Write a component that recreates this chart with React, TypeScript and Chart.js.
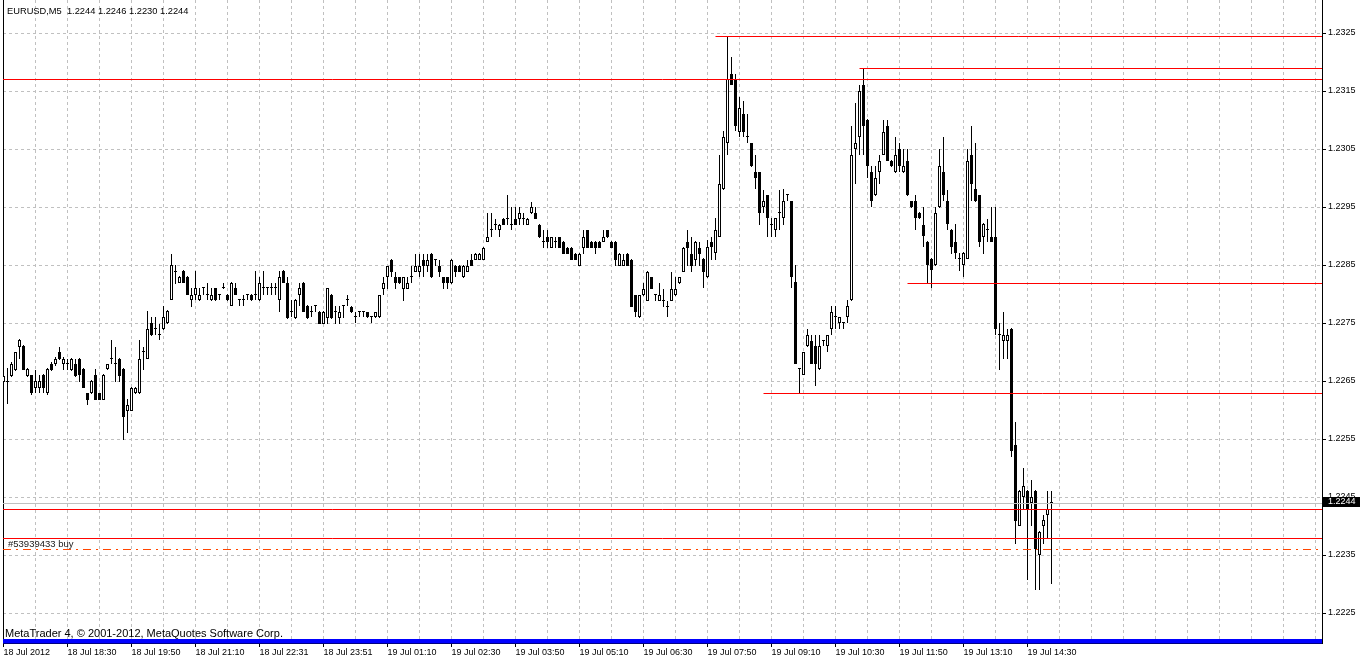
import React, { useEffect, useRef } from 'react';
import { Chart, registerables } from 'chart.js';

Chart.register(...registerables);

// ---- OHLC data (EURUSD M5), one entry per bar ----
const opens = [
  1.22649, 1.22649, 1.22659, 1.22669, 1.22709, 1.22710, 1.22659, 1.22660, 1.22639, 1.22639,
  1.22660, 1.22629, 1.22679, 1.22679, 1.22700, 1.22679, 1.22679, 1.22669, 1.22679, 1.22689,
  1.22671, 1.22629, 1.22629, 1.22660, 1.22629, 1.22618, 1.22671, 1.22689, 1.22679, 1.22689,
  1.22671, 1.22599, 1.22599, 1.22629, 1.22629, 1.22700, 1.22689, 1.22750, 1.22740, 1.22729,
  1.22740, 1.22750, 1.22790, 1.22839, 1.22820, 1.22840, 1.22830, 1.22790, 1.22799, 1.22790,
  1.22810, 1.22799, 1.22790, 1.22810, 1.22799, 1.22810, 1.22799, 1.22780, 1.22810, 1.22790,
  1.22790, 1.22799, 1.22799, 1.22799, 1.22790, 1.22810, 1.22810, 1.22810, 1.22810, 1.22790,
  1.22840, 1.22820, 1.22770, 1.22759, 1.22799, 1.22820, 1.22780, 1.22770, 1.22779, 1.22770,
  1.22749, 1.22759, 1.22799, 1.22770, 1.22759, 1.22779, 1.22790, 1.22778, 1.22760, 1.22769,
  1.22769, 1.22769, 1.22760, 1.22760, 1.22760, 1.22809, 1.22829, 1.22859, 1.22829, 1.22829,
  1.22809, 1.22809, 1.22829, 1.22839, 1.22839, 1.22859, 1.22849, 1.22870, 1.22859, 1.22849,
  1.22829, 1.22829, 1.22819, 1.22849, 1.22849, 1.22829, 1.22839, 1.22859, 1.22859, 1.22859,
  1.22859, 1.22890, 1.22910, 1.22920, 1.22910, 1.22930, 1.22930, 1.22920, 1.22930, 1.22930,
  1.22930, 1.22920, 1.22939, 1.22939, 1.22920, 1.22890, 1.22898, 1.22880, 1.22890, 1.22898,
  1.22890, 1.22880, 1.22880, 1.22870, 1.22849, 1.22880, 1.22910, 1.22890, 1.22890, 1.22890,
  1.22890, 1.22910, 1.22890, 1.22890, 1.22849, 1.22849, 1.22870, 1.22859, 1.22798, 1.22760,
  1.22798, 1.22789, 1.22829, 1.22798, 1.22789, 1.22789, 1.22778, 1.22789, 1.22798, 1.22819,
  1.22839, 1.22890, 1.22870, 1.22859, 1.22880, 1.22861, 1.22829, 1.22890, 1.22871, 1.22899,
  1.22981, 1.23060, 1.23180, 1.23170, 1.23080, 1.23110, 1.23070, 1.23060, 1.23010, 1.23010,
  1.22950, 1.22970, 1.22920, 1.22911, 1.22940, 1.22931, 1.22970, 1.22960, 1.22821, 1.22671,
  1.22661, 1.22710, 1.22720, 1.22710, 1.22671, 1.22720, 1.22710, 1.22740, 1.22760, 1.22750,
  1.22750, 1.22760, 1.22790, 1.23050, 1.23070, 1.23160, 1.23100, 1.23010, 1.22970, 1.23010,
  1.23040, 1.23090, 1.23030, 1.23010, 1.23050, 1.23010, 1.23030, 1.22960, 1.22960, 1.22940,
  1.22920, 1.22890, 1.22861, 1.22850, 1.22950, 1.23010, 1.22960, 1.22911, 1.22890, 1.22861,
  1.22851, 1.22861, 1.23040, 1.22981, 1.22970, 1.22899, 1.22911, 1.22899, 1.22899, 1.22730,
  1.22720, 1.22720, 1.22740, 1.22540, 1.22400, 1.22451, 1.22461, 1.22440, 1.22461, 1.22350,
  1.22400, 1.22420, 1.22440,
];

const highs = [
  1.22672, 1.22672, 1.22683, 1.22701, 1.22722, 1.22712, 1.22673, 1.22661, 1.22669, 1.22660,
  1.22663, 1.22673, 1.22683, 1.22692, 1.22709, 1.22691, 1.22689, 1.22690, 1.22689, 1.22690,
  1.22672, 1.22630, 1.22652, 1.22671, 1.22630, 1.22662, 1.22680, 1.22721, 1.22709, 1.22690,
  1.22672, 1.22619, 1.22640, 1.22640, 1.22721, 1.22709, 1.22771, 1.22760, 1.22761, 1.22749,
  1.22779, 1.22772, 1.22870, 1.22850, 1.22831, 1.22841, 1.22831, 1.22810, 1.22840, 1.22810,
  1.22811, 1.22820, 1.22810, 1.22811, 1.22800, 1.22820, 1.22800, 1.22821, 1.22820, 1.22791,
  1.22799, 1.22800, 1.22800, 1.22840, 1.22830, 1.22840, 1.22811, 1.22820, 1.22820, 1.22840,
  1.22841, 1.22830, 1.22790, 1.22791, 1.22820, 1.22821, 1.22781, 1.22779, 1.22780, 1.22771,
  1.22771, 1.22810, 1.22800, 1.22779, 1.22779, 1.22780, 1.22799, 1.22780, 1.22769, 1.22770,
  1.22770, 1.22770, 1.22761, 1.22770, 1.22799, 1.22829, 1.22849, 1.22860, 1.22839, 1.22830,
  1.22830, 1.22829, 1.22849, 1.22870, 1.22870, 1.22870, 1.22870, 1.22871, 1.22860, 1.22859,
  1.22830, 1.22830, 1.22860, 1.22850, 1.22850, 1.22850, 1.22859, 1.22870, 1.22871, 1.22871,
  1.22881, 1.22939, 1.22939, 1.22930, 1.22921, 1.22931, 1.22970, 1.22950, 1.22950, 1.22950,
  1.22939, 1.22931, 1.22959, 1.22950, 1.22921, 1.22910, 1.22910, 1.22899, 1.22898, 1.22899,
  1.22891, 1.22881, 1.22881, 1.22871, 1.22871, 1.22910, 1.22911, 1.22891, 1.22891, 1.22891,
  1.22910, 1.22911, 1.22891, 1.22891, 1.22871, 1.22870, 1.22871, 1.22860, 1.22799, 1.22799,
  1.22819, 1.22840, 1.22830, 1.22799, 1.22819, 1.22809, 1.22789, 1.22839, 1.22829, 1.22830,
  1.22881, 1.22910, 1.22898, 1.22891, 1.22890, 1.22862, 1.22894, 1.22899, 1.22931, 1.23040,
  1.23081, 1.23245, 1.23209, 1.23180, 1.23140, 1.23132, 1.23110, 1.23061, 1.23040, 1.23011,
  1.22980, 1.22971, 1.22931, 1.22932, 1.22980, 1.22981, 1.22971, 1.22961, 1.22850, 1.22672,
  1.22701, 1.22740, 1.22730, 1.22730, 1.22730, 1.22721, 1.22730, 1.22780, 1.22780, 1.22761,
  1.22751, 1.22790, 1.23090, 1.23130, 1.23160, 1.23190, 1.23101, 1.23020, 1.23020, 1.23040,
  1.23100, 1.23100, 1.23031, 1.23070, 1.23060, 1.23050, 1.23050, 1.22961, 1.22970, 1.22941,
  1.22950, 1.22891, 1.22862, 1.22950, 1.23050, 1.23070, 1.22980, 1.22912, 1.22921, 1.22871,
  1.22872, 1.23050, 1.23090, 1.23060, 1.22971, 1.22922, 1.22930, 1.22950, 1.22950, 1.22750,
  1.22770, 1.22740, 1.22741, 1.22580, 1.22462, 1.22500, 1.22462, 1.22480, 1.22462, 1.22391,
  1.22420, 1.22461, 1.22460,
];

const lows = [
  1.22623, 1.22610, 1.22657, 1.22667, 1.22689, 1.22669, 1.22657, 1.22627, 1.22629, 1.22629,
  1.22629, 1.22627, 1.22667, 1.22677, 1.22687, 1.22670, 1.22669, 1.22668, 1.22658, 1.22649,
  1.22638, 1.22609, 1.22628, 1.22617, 1.22617, 1.22617, 1.22669, 1.22679, 1.22649, 1.22649,
  1.22549, 1.22560, 1.22598, 1.22628, 1.22628, 1.22669, 1.22688, 1.22728, 1.22729, 1.22721,
  1.22739, 1.22749, 1.22790, 1.22818, 1.22819, 1.22819, 1.22798, 1.22778, 1.22790, 1.22789,
  1.22799, 1.22790, 1.22789, 1.22789, 1.22790, 1.22809, 1.22789, 1.22779, 1.22798, 1.22779,
  1.22779, 1.22790, 1.22789, 1.22790, 1.22789, 1.22799, 1.22799, 1.22799, 1.22799, 1.22770,
  1.22819, 1.22758, 1.22761, 1.22758, 1.22779, 1.22769, 1.22758, 1.22761, 1.22770, 1.22748,
  1.22748, 1.22749, 1.22758, 1.22749, 1.22749, 1.22759, 1.22779, 1.22768, 1.22750, 1.22760,
  1.22760, 1.22759, 1.22750, 1.22759, 1.22759, 1.22798, 1.22809, 1.22829, 1.22809, 1.22818,
  1.22789, 1.22808, 1.22819, 1.22838, 1.22829, 1.22829, 1.22839, 1.22828, 1.22849, 1.22829,
  1.22809, 1.22809, 1.22818, 1.22829, 1.22838, 1.22828, 1.22838, 1.22848, 1.22858, 1.22858,
  1.22858, 1.22889, 1.22898, 1.22910, 1.22898, 1.22919, 1.22920, 1.22910, 1.22919, 1.22920,
  1.22920, 1.22919, 1.22938, 1.22929, 1.22897, 1.22880, 1.22880, 1.22879, 1.22880, 1.22879,
  1.22869, 1.22869, 1.22858, 1.22858, 1.22848, 1.22870, 1.22879, 1.22879, 1.22870, 1.22879,
  1.22889, 1.22897, 1.22879, 1.22849, 1.22848, 1.22848, 1.22848, 1.22777, 1.22760, 1.22759,
  1.22797, 1.22788, 1.22808, 1.22789, 1.22788, 1.22778, 1.22760, 1.22788, 1.22797, 1.22818,
  1.22838, 1.22849, 1.22839, 1.22849, 1.22849, 1.22810, 1.22828, 1.22859, 1.22859, 1.22899,
  1.22980, 1.23040, 1.23160, 1.23081, 1.23070, 1.23070, 1.23060, 1.23019, 1.22981, 1.22920,
  1.22939, 1.22899, 1.22899, 1.22899, 1.22911, 1.22920, 1.22960, 1.22810, 1.22680, 1.22630,
  1.22660, 1.22709, 1.22679, 1.22641, 1.22670, 1.22710, 1.22700, 1.22730, 1.22740, 1.22740,
  1.22740, 1.22750, 1.22789, 1.22990, 1.23040, 1.23040, 1.23000, 1.22950, 1.22969, 1.22990,
  1.23039, 1.23029, 1.23019, 1.23009, 1.23010, 1.23009, 1.22969, 1.22949, 1.22910, 1.22930,
  1.22881, 1.22820, 1.22810, 1.22849, 1.22949, 1.22960, 1.22911, 1.22870, 1.22860, 1.22840,
  1.22830, 1.22860, 1.22960, 1.22959, 1.22881, 1.22870, 1.22890, 1.22889, 1.22730, 1.22670,
  1.22688, 1.22688, 1.22519, 1.22369, 1.22400, 1.22430, 1.22308, 1.22400, 1.22290, 1.22290,
  1.22369, 1.22380, 1.22300,
];

const closes = [
  1.22659, 1.22650, 1.22679, 1.22700, 1.22721, 1.22669, 1.22671, 1.22629, 1.22650, 1.22650,
  1.22639, 1.22671, 1.22669, 1.22689, 1.22689, 1.22689, 1.22679, 1.22689, 1.22659, 1.22660,
  1.22639, 1.22618, 1.22650, 1.22618, 1.22618, 1.22660, 1.22679, 1.22689, 1.22679, 1.22659,
  1.22589, 1.22609, 1.22639, 1.22639, 1.22689, 1.22700, 1.22740, 1.22729, 1.22740, 1.22729,
  1.22761, 1.22771, 1.22850, 1.22839, 1.22830, 1.22820, 1.22799, 1.22799, 1.22810, 1.22799,
  1.22810, 1.22799, 1.22799, 1.22790, 1.22799, 1.22810, 1.22790, 1.22820, 1.22799, 1.22790,
  1.22790, 1.22799, 1.22790, 1.22799, 1.22820, 1.22810, 1.22810, 1.22810, 1.22810, 1.22830,
  1.22820, 1.22759, 1.22770, 1.22790, 1.22810, 1.22770, 1.22759, 1.22770, 1.22779, 1.22749,
  1.22770, 1.22810, 1.22759, 1.22770, 1.22770, 1.22779, 1.22790, 1.22769, 1.22760, 1.22769,
  1.22769, 1.22760, 1.22760, 1.22769, 1.22798, 1.22819, 1.22849, 1.22839, 1.22819, 1.22819,
  1.22829, 1.22819, 1.22829, 1.22849, 1.22849, 1.22849, 1.22859, 1.22829, 1.22859, 1.22839,
  1.22819, 1.22819, 1.22859, 1.22839, 1.22839, 1.22849, 1.22849, 1.22849, 1.22870, 1.22870,
  1.22880, 1.22898, 1.22910, 1.22920, 1.22920, 1.22920, 1.22930, 1.22920, 1.22920, 1.22939,
  1.22930, 1.22930, 1.22950, 1.22930, 1.22898, 1.22890, 1.22890, 1.22898, 1.22890, 1.22880,
  1.22870, 1.22870, 1.22859, 1.22859, 1.22870, 1.22898, 1.22880, 1.22880, 1.22880, 1.22880,
  1.22898, 1.22898, 1.22880, 1.22859, 1.22870, 1.22859, 1.22849, 1.22778, 1.22769, 1.22798,
  1.22809, 1.22839, 1.22809, 1.22798, 1.22798, 1.22789, 1.22778, 1.22809, 1.22809, 1.22829,
  1.22880, 1.22880, 1.22849, 1.22890, 1.22870, 1.22839, 1.22881, 1.22881, 1.22911, 1.22989,
  1.23070, 1.23170, 1.23160, 1.23090, 1.23120, 1.23080, 1.23070, 1.23020, 1.23000, 1.22939,
  1.22960, 1.22931, 1.22920, 1.22931, 1.22940, 1.22960, 1.22970, 1.22829, 1.22680, 1.22671,
  1.22700, 1.22730, 1.22680, 1.22680, 1.22710, 1.22720, 1.22730, 1.22770, 1.22760, 1.22760,
  1.22750, 1.22780, 1.23040, 1.23060, 1.23150, 1.23090, 1.23020, 1.22960, 1.23000, 1.23030,
  1.23080, 1.23030, 1.23020, 1.23040, 1.23020, 1.23020, 1.22970, 1.22950, 1.22931, 1.22931,
  1.22900, 1.22850, 1.22841, 1.22940, 1.23020, 1.22970, 1.22921, 1.22881, 1.22871, 1.22861,
  1.22871, 1.23030, 1.22990, 1.22960, 1.22890, 1.22921, 1.22911, 1.22890, 1.22740, 1.22730,
  1.22730, 1.22730, 1.22529, 1.22409, 1.22461, 1.22470, 1.22430, 1.22451, 1.22360, 1.22390,
  1.22410, 1.22430, 1.22440,
];

// ---- axes ----
const yTickValues = [1.2225, 1.2235, 1.2245, 1.2255, 1.2265, 1.2275, 1.2285, 1.2295, 1.2305, 1.2315, 1.2325];
const xLabelBars = [0, 16, 32, 48, 64, 80, 96, 112, 128, 144, 160, 176, 192, 208, 224, 240, 256];
const xLabelTexts = [
  '18 Jul 2012', '18 Jul 18:30', '18 Jul 19:50', '18 Jul 21:10', '18 Jul 22:31', '18 Jul 23:51',
  '19 Jul 01:10', '19 Jul 02:30', '19 Jul 03:50', '19 Jul 05:10', '19 Jul 06:30', '19 Jul 07:50',
  '19 Jul 09:10', '19 Jul 10:30', '19 Jul 11:50', '19 Jul 13:10', '19 Jul 14:30',
];
const gridBars = [
  0, 8, 16, 24, 32, 40, 48, 56, 64, 72, 80, 88, 96, 104, 112, 120, 128, 136, 144, 152, 160,
  168, 176, 184, 192, 200, 208, 216, 224, 232, 240, 248, 256, 264, 272, 280, 288, 296, 304,
  312, 320, 328,
];

// ---- horizontal objects ----
const levelPrices = [1.23245, 1.2319, 1.2317, 1.2282, 1.2263, 1.2243, 1.2238];
const levelStartBars = [178, 214, -1, 226, 190, -1, -1]; // -1 = from left edge
const bidPrice = 1.2244;
const orderPrice = 1.2236;
const orderLabel = '#53939433 buy';
const bottomBandPrice = 1.22203;
const titleText = 'EURUSD,M5  1.2244 1.2246 1.2230 1.2244';
const copyrightText = 'MetaTrader 4, \u00A9 2001-2012, MetaQuotes Software Corp.';

const X_MIN = -0.125;
const X_MAX = 329.625;
const Y_MIN = 1.221988;
const Y_MAX = 1.233069;
const FONT = '"Liberation Sans", Arial, sans-serif';

const crispLinePlugin = {
  id: 'crispLines',
  beforeDatasetDraw(chart: any, args: any) {
    if (args.meta.type === 'line') {
      chart.ctx.save();
      chart.ctx.translate(0, 0.5);
    }
  },
  afterDatasetDraw(chart: any, args: any) {
    if (args.meta.type === 'line') chart.ctx.restore();
  },
};

const textPlugin = {
  id: 'mtText',
  afterDraw(chart: any) {
    const ctx = chart.ctx;
    const y = chart.scales.y;
    ctx.save();
    ctx.textBaseline = 'alphabetic';
    ctx.textAlign = 'left';
    ctx.fillStyle = '#000';
    ctx.font = `9.3px ${FONT}`;
    ctx.fillText(titleText, 7, 14);
    ctx.font = `11px ${FONT}`;
    ctx.fillText(copyrightText, 5, 637);
    ctx.font = `9.5px ${FONT}`;
    ctx.fillStyle = '#202020';
    ctx.fillText(orderLabel, 8, Math.round(y.getPixelForValue(orderPrice)) - 2);
    // bid price label box
    const by = Math.round(y.getPixelForValue(bidPrice));
    ctx.fillStyle = '#000';
    ctx.fillRect(chart.chartArea.right + 1, by - 6, 40, 10);
    ctx.fillStyle = '#fff';
    ctx.font = `9px ${FONT}`;
    ctx.textBaseline = 'middle';
    ctx.fillText(bidPrice.toFixed(4), chart.chartArea.right + 6, by - 1);
    ctx.restore();
  },
};

export default function App() {
  const ref = useRef<HTMLCanvasElement | null>(null);

  useEffect(() => {
    document.body.style.margin = '0';
    document.body.style.overflow = 'hidden';
    const canvas = ref.current;
    if (!canvas) return;
    const idx = opens.map((_, i) => i);

    const hLine = (x0: number, p: number, color: string, width: number, dash: number[], order: number) => ({
      type: 'line' as const,
      data: [
        { x: x0, y: p },
        { x: X_MAX, y: p },
      ],
      borderColor: color,
      borderWidth: width,
      borderDash: dash,
      pointRadius: 0,
      fill: false,
      yAxisID: 'y',
      xAxisID: 'x',
      order,
    });

    const levelDatasets = levelPrices.map((p, k) =>
      hLine(levelStartBars[k] < 0 ? X_MIN : levelStartBars[k], p, '#ff0000', 1, [], 1)
    );

    const chart = new Chart(canvas, {
      type: 'bar',
      data: {
        datasets: [
          {
            type: 'bar',
            data: idx.map((i) => ({ x: i, y: [lows[i], highs[i]] })),
            backgroundColor: '#000',
            borderWidth: 0,
            barThickness: 1,
            grouped: false,
            minBarLength: 1,
            inflateAmount: 0,
            yAxisID: 'y',
            xAxisID: 'x',
            order: 3,
          } as any,
          {
            type: 'bar',
            data: idx.map((i) => ({
              x: i,
              y: [Math.min(opens[i], closes[i]), Math.max(opens[i], closes[i])],
            })),
            backgroundColor: idx.map((i) => (closes[i] >= opens[i] ? '#ffffff' : '#000000')),
            borderColor: '#000',
            borderWidth: 1,
            borderSkipped: false,
            barThickness: 3,
            grouped: false,
            minBarLength: 1,
            inflateAmount: 0,
            yAxisID: 'y',
            xAxisID: 'x',
            order: 2,
          } as any,
          hLine(X_MIN, bidPrice, '#c0c0c0', 1, [], 1.5) as any,
          ...levelDatasets,
          hLine(X_MIN, orderPrice, '#ff4500', 1, [8, 5, 2, 5], 1) as any,
          hLine(X_MIN, bottomBandPrice, '#0000ff', 5, [], 0) as any,
        ],
      },
      options: {
        responsive: false,
        animation: false,
        devicePixelRatio: 1,
        layout: { padding: 0 },
        plugins: { legend: { display: false }, tooltip: { enabled: false }, title: { display: false } },
        scales: {
          x: {
            type: 'linear',
            position: 'bottom',
            min: X_MIN,
            max: X_MAX,
            offset: false,
            afterBuildTicks: (s: any) => {
              s.ticks = gridBars.map((v) => ({ value: v }));
            },
            afterFit: (s: any) => {
              s.height = 17;
              s.paddingLeft = 0;
              s.paddingRight = 0;
            },
            ticks: {
              autoSkip: false,
              maxRotation: 0,
              minRotation: 0,
              align: 'start',
              padding: 0,
              color: '#000',
              font: { family: FONT, size: 9 },
              callback: (v: any) => {
                const k = xLabelBars.indexOf(Number(v));
                return k >= 0 ? xLabelTexts[k] : '';
              },
            },
            grid: {
              offset: false,
              lineWidth: 1,
              color: (c: any) => (c.tick && c.tick.value === 0 ? 'rgba(0,0,0,0)' : '#c0c0c0'),
              tickColor: (c: any) =>
                c.tick && xLabelBars.includes(c.tick.value) ? '#000' : 'rgba(0,0,0,0)',
              tickLength: 4,
            },
            border: { display: true, color: '#000', dash: [3, 3] },
          },
          y: {
            type: 'linear',
            position: 'right',
            min: Y_MIN,
            max: Y_MAX,
            beginAtZero: false,
            alignToPixels: true,
            afterBuildTicks: (s: any) => {
              s.ticks = yTickValues.map((v) => ({ value: v }));
            },
            afterFit: (s: any) => {
              s.width = 38;
              s.paddingTop = 0;
              s.paddingBottom = 0;
            },
            ticks: {
              color: '#000',
              padding: 2,
              font: { family: FONT, size: 9 },
              callback: (v: any) => Number(v).toFixed(4),
            },
            grid: { color: '#c0c0c0', tickColor: '#000', tickLength: 4, lineWidth: 1 },
            border: { display: true, color: '#000', dash: [3, 3] },
          },
          yl: {
            type: 'linear',
            position: 'left',
            min: 0,
            max: 1,
            ticks: { display: false },
            grid: { display: false, drawTicks: false },
            border: { display: true, color: '#000' },
            afterFit: (s: any) => {
              s.width = 3;
              s.paddingTop = 0;
              s.paddingBottom = 0;
            },
          },
        },
      } as any,
      plugins: [crispLinePlugin, textPlugin],
    });

    return () => chart.destroy();
  }, []);

  return (
    <div style={{ width: 1360, height: 660, background: '#fff' }}>
      <canvas ref={ref} width={1360} height={660} style={{ display: 'block' }} />
    </div>
  );
}
